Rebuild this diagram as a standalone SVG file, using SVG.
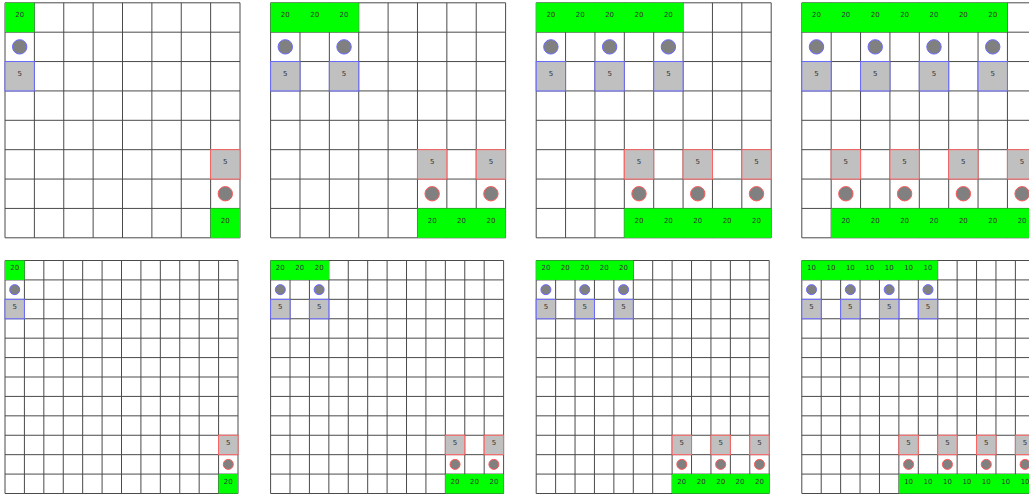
<svg xmlns="http://www.w3.org/2000/svg" xmlns:xlink="http://www.w3.org/1999/xlink" width="1029" height="495" viewBox="0 0 1029 495">
<style>
.grid{fill:none;stroke:#4a4a4a;stroke-width:1}
.g{fill:#00ff00}
.bb{fill:#c0c0c0;stroke:#6a6aff;stroke-width:1}
.rb{fill:#c0c0c0;stroke:#ff6464;stroke-width:1}
.bc{fill:#808080;stroke:#6a6aff;stroke-width:1}
.rc{fill:#808080;stroke:#ff5a5a;stroke-width:1}
.t{font-family:"DejaVu Sans",sans-serif;font-size:7px;fill:#333;text-anchor:middle}
</style>
<defs>
<path id="grid8" class="grid" d="M0 0H235M0 29.375H235M0 58.75H235M0 88.125H235M0 117.5H235M0 146.875H235M0 176.25H235M0 205.625H235M0 235H235M0 0V235M29.375 0V235M58.75 0V235M88.125 0V235M117.5 0V235M146.875 0V235M176.25 0V235M205.625 0V235M235 0V235"/>
<path id="grid12" class="grid" d="M0 0H233M0 19.417H233M0 38.833H233M0 58.25H233M0 77.667H233M0 97.083H233M0 116.5H233M0 135.917H233M0 155.333H233M0 174.75H233M0 194.167H233M0 213.583H233M0 233H233M0 0V233M19.417 0V233M38.833 0V233M58.25 0V233M77.667 0V233M97.083 0V233M116.5 0V233M135.917 0V233M155.333 0V233M174.75 0V233M194.167 0V233M213.583 0V233M233 0V233"/>
</defs>
<rect width="1029" height="495" fill="#ffffff"/>

<g id="panel-a1" transform="translate(5,2.8)">
<use xlink:href="#grid8"/>
<rect class="g" x="0" y="0" width="29.375" height="29.375"/>
<text class="t" x="14.69" y="14.69">20</text>
<circle class="bc" cx="14.69" cy="44.06" r="7.2"/>
<rect class="bb" x="0" y="58.75" width="29.375" height="29.375"/><text class="t" x="14.69" y="73.44">5</text>
<rect class="rb" x="205.625" y="146.875" width="29.375" height="29.375"/><text class="t" x="220.31" y="161.56">5</text>
<circle class="rc" cx="220.31" cy="190.94" r="7.2"/>
<rect class="g" x="205.625" y="205.625" width="29.375" height="29.375"/>
<text class="t" x="220.31" y="220.31">20</text>
</g>

<g id="panel-a2" transform="translate(270.6,2.8)">
<use xlink:href="#grid8"/>
<rect class="g" x="0" y="0" width="88.125" height="29.375"/>
<text class="t" x="14.69" y="14.69">20</text><text class="t" x="44.06" y="14.69">20</text><text class="t" x="73.44" y="14.69">20</text>
<circle class="bc" cx="14.69" cy="44.06" r="7.2"/><circle class="bc" cx="73.44" cy="44.06" r="7.2"/>
<rect class="bb" x="0" y="58.75" width="29.375" height="29.375"/><text class="t" x="14.69" y="73.44">5</text>
<rect class="bb" x="58.75" y="58.75" width="29.375" height="29.375"/><text class="t" x="73.44" y="73.44">5</text>
<rect class="rb" x="146.875" y="146.875" width="29.375" height="29.375"/><text class="t" x="161.56" y="161.56">5</text>
<rect class="rb" x="205.625" y="146.875" width="29.375" height="29.375"/><text class="t" x="220.31" y="161.56">5</text>
<circle class="rc" cx="161.56" cy="190.94" r="7.2"/><circle class="rc" cx="220.31" cy="190.94" r="7.2"/>
<rect class="g" x="146.875" y="205.625" width="88.125" height="29.375"/>
<text class="t" x="161.56" y="220.31">20</text><text class="t" x="190.94" y="220.31">20</text><text class="t" x="220.31" y="220.31">20</text>
</g>

<g id="panel-a3" transform="translate(536.2,2.8)">
<use xlink:href="#grid8"/>
<rect class="g" x="0" y="0" width="146.875" height="29.375"/>
<text class="t" x="14.69" y="14.69">20</text><text class="t" x="44.06" y="14.69">20</text><text class="t" x="73.44" y="14.69">20</text><text class="t" x="102.81" y="14.69">20</text><text class="t" x="132.19" y="14.69">20</text>
<circle class="bc" cx="14.69" cy="44.06" r="7.2"/><circle class="bc" cx="73.44" cy="44.06" r="7.2"/><circle class="bc" cx="132.19" cy="44.06" r="7.2"/>
<rect class="bb" x="0" y="58.75" width="29.375" height="29.375"/><text class="t" x="14.69" y="73.44">5</text>
<rect class="bb" x="58.75" y="58.75" width="29.375" height="29.375"/><text class="t" x="73.44" y="73.44">5</text>
<rect class="bb" x="117.5" y="58.75" width="29.375" height="29.375"/><text class="t" x="132.19" y="73.44">5</text>
<rect class="rb" x="88.125" y="146.875" width="29.375" height="29.375"/><text class="t" x="102.81" y="161.56">5</text>
<rect class="rb" x="146.875" y="146.875" width="29.375" height="29.375"/><text class="t" x="161.56" y="161.56">5</text>
<rect class="rb" x="205.625" y="146.875" width="29.375" height="29.375"/><text class="t" x="220.31" y="161.56">5</text>
<circle class="rc" cx="102.81" cy="190.94" r="7.2"/><circle class="rc" cx="161.56" cy="190.94" r="7.2"/><circle class="rc" cx="220.31" cy="190.94" r="7.2"/>
<rect class="g" x="88.125" y="205.625" width="146.875" height="29.375"/>
<text class="t" x="102.81" y="220.31">20</text><text class="t" x="132.19" y="220.31">20</text><text class="t" x="161.56" y="220.31">20</text><text class="t" x="190.94" y="220.31">20</text><text class="t" x="220.31" y="220.31">20</text>
</g>

<g id="panel-a4" transform="translate(801.8,2.8)">
<use xlink:href="#grid8"/>
<rect class="g" x="0" y="0" width="205.625" height="29.375"/>
<text class="t" x="14.69" y="14.69">20</text><text class="t" x="44.06" y="14.69">20</text><text class="t" x="73.44" y="14.69">20</text><text class="t" x="102.81" y="14.69">20</text><text class="t" x="132.19" y="14.69">20</text><text class="t" x="161.56" y="14.69">20</text><text class="t" x="190.94" y="14.69">20</text>
<circle class="bc" cx="14.69" cy="44.06" r="7.2"/><circle class="bc" cx="73.44" cy="44.06" r="7.2"/><circle class="bc" cx="132.19" cy="44.06" r="7.2"/><circle class="bc" cx="190.94" cy="44.06" r="7.2"/>
<rect class="bb" x="0" y="58.75" width="29.375" height="29.375"/><text class="t" x="14.69" y="73.44">5</text>
<rect class="bb" x="58.75" y="58.75" width="29.375" height="29.375"/><text class="t" x="73.44" y="73.44">5</text>
<rect class="bb" x="117.5" y="58.75" width="29.375" height="29.375"/><text class="t" x="132.19" y="73.44">5</text>
<rect class="bb" x="176.25" y="58.75" width="29.375" height="29.375"/><text class="t" x="190.94" y="73.44">5</text>
<rect class="rb" x="29.375" y="146.875" width="29.375" height="29.375"/><text class="t" x="44.06" y="161.56">5</text>
<rect class="rb" x="88.125" y="146.875" width="29.375" height="29.375"/><text class="t" x="102.81" y="161.56">5</text>
<rect class="rb" x="146.875" y="146.875" width="29.375" height="29.375"/><text class="t" x="161.56" y="161.56">5</text>
<rect class="rb" x="205.625" y="146.875" width="29.375" height="29.375"/><text class="t" x="220.31" y="161.56">5</text>
<circle class="rc" cx="44.06" cy="190.94" r="7.2"/><circle class="rc" cx="102.81" cy="190.94" r="7.2"/><circle class="rc" cx="161.56" cy="190.94" r="7.2"/><circle class="rc" cx="220.31" cy="190.94" r="7.2"/>
<rect class="g" x="29.375" y="205.625" width="205.625" height="29.375"/>
<text class="t" x="44.06" y="220.31">20</text><text class="t" x="73.44" y="220.31">20</text><text class="t" x="102.81" y="220.31">20</text><text class="t" x="132.19" y="220.31">20</text><text class="t" x="161.56" y="220.31">20</text><text class="t" x="190.94" y="220.31">20</text><text class="t" x="220.31" y="220.31">20</text>
</g>

<g id="panel-b1" transform="translate(5,260.5)">
<use xlink:href="#grid12"/>
<rect class="g" x="0" y="0" width="19.417" height="19.417"/>
<text class="t" x="9.71" y="9.71">20</text>
<circle class="bc" cx="9.71" cy="29.13" r="5"/>
<rect class="bb" x="0" y="38.833" width="19.417" height="19.417"/><text class="t" x="9.71" y="48.54">5</text>
<rect class="rb" x="213.583" y="174.75" width="19.417" height="19.417"/><text class="t" x="223.29" y="184.46">5</text>
<circle class="rc" cx="223.29" cy="203.88" r="5"/>
<rect class="g" x="213.583" y="213.583" width="19.417" height="19.417"/>
<text class="t" x="223.29" y="223.29">20</text>
</g>

<g id="panel-b2" transform="translate(270.6,260.5)">
<use xlink:href="#grid12"/>
<rect class="g" x="0" y="0" width="58.25" height="19.417"/>
<text class="t" x="9.71" y="9.71">20</text><text class="t" x="29.13" y="9.71">20</text><text class="t" x="48.54" y="9.71">20</text>
<circle class="bc" cx="9.71" cy="29.13" r="5"/><circle class="bc" cx="48.54" cy="29.13" r="5"/>
<rect class="bb" x="0" y="38.833" width="19.417" height="19.417"/><text class="t" x="9.71" y="48.54">5</text>
<rect class="bb" x="38.833" y="38.833" width="19.417" height="19.417"/><text class="t" x="48.54" y="48.54">5</text>
<rect class="rb" x="174.75" y="174.75" width="19.417" height="19.417"/><text class="t" x="184.46" y="184.46">5</text>
<rect class="rb" x="213.583" y="174.75" width="19.417" height="19.417"/><text class="t" x="223.29" y="184.46">5</text>
<circle class="rc" cx="184.46" cy="203.88" r="5"/><circle class="rc" cx="223.29" cy="203.88" r="5"/>
<rect class="g" x="174.75" y="213.583" width="58.25" height="19.417"/>
<text class="t" x="184.46" y="223.29">20</text><text class="t" x="203.88" y="223.29">20</text><text class="t" x="223.29" y="223.29">20</text>
</g>

<g id="panel-b3" transform="translate(536.2,260.5)">
<use xlink:href="#grid12"/>
<rect class="g" x="0" y="0" width="97.083" height="19.417"/>
<text class="t" x="9.71" y="9.71">20</text><text class="t" x="29.13" y="9.71">20</text><text class="t" x="48.54" y="9.71">20</text><text class="t" x="67.96" y="9.71">20</text><text class="t" x="87.38" y="9.71">20</text>
<circle class="bc" cx="9.71" cy="29.13" r="5"/><circle class="bc" cx="48.54" cy="29.13" r="5"/><circle class="bc" cx="87.38" cy="29.13" r="5"/>
<rect class="bb" x="0" y="38.833" width="19.417" height="19.417"/><text class="t" x="9.71" y="48.54">5</text>
<rect class="bb" x="38.833" y="38.833" width="19.417" height="19.417"/><text class="t" x="48.54" y="48.54">5</text>
<rect class="bb" x="77.667" y="38.833" width="19.417" height="19.417"/><text class="t" x="87.38" y="48.54">5</text>
<rect class="rb" x="135.917" y="174.75" width="19.417" height="19.417"/><text class="t" x="145.63" y="184.46">5</text>
<rect class="rb" x="174.75" y="174.75" width="19.417" height="19.417"/><text class="t" x="184.46" y="184.46">5</text>
<rect class="rb" x="213.583" y="174.75" width="19.417" height="19.417"/><text class="t" x="223.29" y="184.46">5</text>
<circle class="rc" cx="145.63" cy="203.88" r="5"/><circle class="rc" cx="184.46" cy="203.88" r="5"/><circle class="rc" cx="223.29" cy="203.88" r="5"/>
<rect class="g" x="135.917" y="213.583" width="97.083" height="19.417"/>
<text class="t" x="145.63" y="223.29">20</text><text class="t" x="165.04" y="223.29">20</text><text class="t" x="184.46" y="223.29">20</text><text class="t" x="203.88" y="223.29">20</text><text class="t" x="223.29" y="223.29">20</text>
</g>

<g id="panel-b4" transform="translate(801.8,260.5)">
<use xlink:href="#grid12"/>
<rect class="g" x="0" y="0" width="135.917" height="19.417"/>
<text class="t" x="9.71" y="9.71">10</text><text class="t" x="29.13" y="9.71">10</text><text class="t" x="48.54" y="9.71">10</text><text class="t" x="67.96" y="9.71">10</text><text class="t" x="87.38" y="9.71">10</text><text class="t" x="106.79" y="9.71">10</text><text class="t" x="126.21" y="9.71">10</text>
<circle class="bc" cx="9.71" cy="29.13" r="5"/><circle class="bc" cx="48.54" cy="29.13" r="5"/><circle class="bc" cx="87.38" cy="29.13" r="5"/><circle class="bc" cx="126.21" cy="29.13" r="5"/>
<rect class="bb" x="0" y="38.833" width="19.417" height="19.417"/><text class="t" x="9.71" y="48.54">5</text>
<rect class="bb" x="38.833" y="38.833" width="19.417" height="19.417"/><text class="t" x="48.54" y="48.54">5</text>
<rect class="bb" x="77.667" y="38.833" width="19.417" height="19.417"/><text class="t" x="87.38" y="48.54">5</text>
<rect class="bb" x="116.5" y="38.833" width="19.417" height="19.417"/><text class="t" x="126.21" y="48.54">5</text>
<rect class="rb" x="97.083" y="174.75" width="19.417" height="19.417"/><text class="t" x="106.79" y="184.46">5</text>
<rect class="rb" x="135.917" y="174.75" width="19.417" height="19.417"/><text class="t" x="145.63" y="184.46">5</text>
<rect class="rb" x="174.75" y="174.75" width="19.417" height="19.417"/><text class="t" x="184.46" y="184.46">5</text>
<rect class="rb" x="213.583" y="174.75" width="19.417" height="19.417"/><text class="t" x="223.29" y="184.46">5</text>
<circle class="rc" cx="106.79" cy="203.88" r="5"/><circle class="rc" cx="145.63" cy="203.88" r="5"/><circle class="rc" cx="184.46" cy="203.88" r="5"/><circle class="rc" cx="223.29" cy="203.88" r="5"/>
<rect class="g" x="97.083" y="213.583" width="135.917" height="19.417"/>
<text class="t" x="106.79" y="223.29">10</text><text class="t" x="126.21" y="223.29">10</text><text class="t" x="145.63" y="223.29">10</text><text class="t" x="165.04" y="223.29">10</text><text class="t" x="184.46" y="223.29">10</text><text class="t" x="203.88" y="223.29">10</text><text class="t" x="223.29" y="223.29">10</text>
</g>
</svg>
